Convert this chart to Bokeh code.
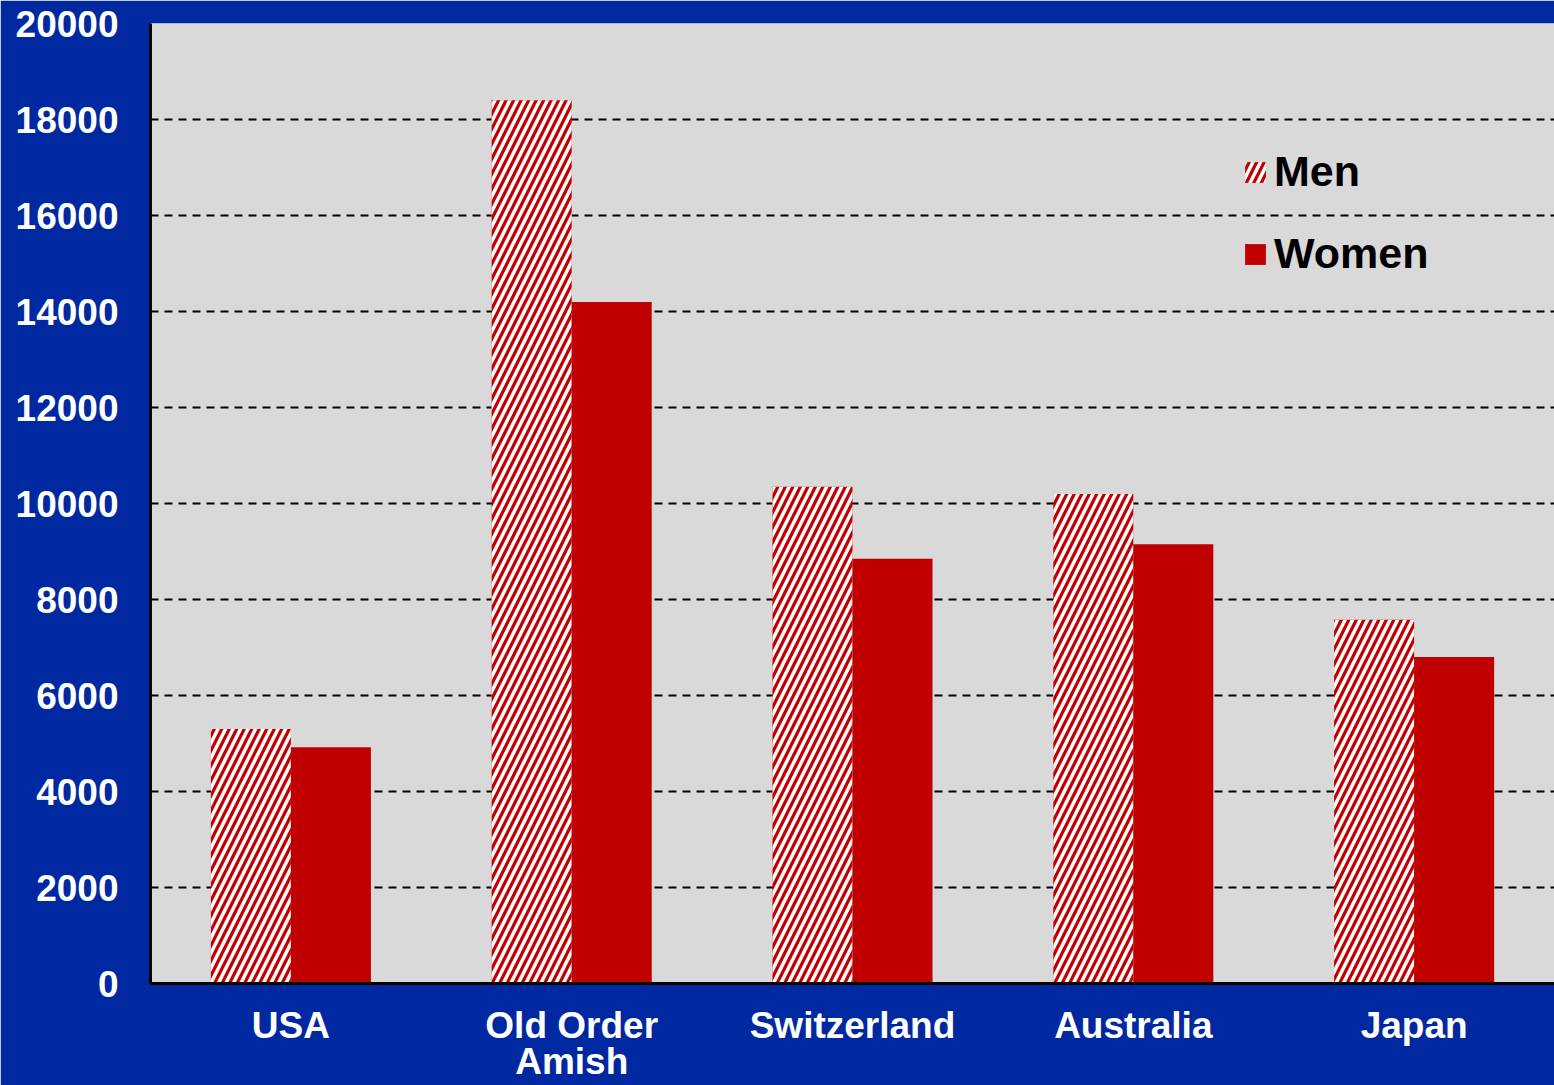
from bokeh.plotting import figure
from bokeh.models import (ColumnDataSource, Legend, LegendItem, FixedTicker, NumeralTickFormatter,
                          FactorRange, CategoricalAxis)
from bokeh.transform import dodge
from bokeh.embed import file_html
from bokeh.resources import INLINE

countries = ["USA", "Old Order Amish", "Switzerland", "Australia", "Japan"]
label_line1 = ["USA", "Old Order", "Switzerland", "Australia", "Japan"]
label_line2 = [" ", "Amish", "  ", "   ", "    "]
men = [5300, 18400, 10350, 10200, 7580]
women = [4920, 14200, 8850, 9150, 6800]
y_ticks = [0, 2000, 4000, 6000, 8000, 10000, 12000, 14000, 16000, 18000, 20000]

BG = "#0028A0"
RED = "#C00000"
FONT = "Liberation Sans"

src = ColumnDataSource(data=dict(country=countries, men=men, women=women))

p = figure(x_range=countries, y_range=(0, 20000), width=1554, height=1085,
           output_backend="svg", toolbar_location=None,
           background_fill_color="#D9D9D9", border_fill_color=BG,
           min_border_left=150, min_border_right=0, min_border_top=23, min_border_bottom=102)
p.outline_line_color = None
p.extra_x_ranges = {"line1": FactorRange(factors=label_line1),
                    "line2": FactorRange(factors=label_line2)}

r_men = p.vbar(x=dodge("country", -0.1425, range=p.x_range), top="men", width=0.285, source=src,
               fill_color=RED, line_color=None, hatch_pattern="/", hatch_color="white",
               hatch_weight=3.5, hatch_scale=15)
r_women = p.vbar(x=dodge("country", 0.1425, range=p.x_range), top="women", width=0.285, source=src,
                 fill_color=RED, line_color=None)

p.xgrid.grid_line_color = None
p.ygrid.grid_line_color = "black"
p.ygrid.grid_line_width = 2
p.ygrid.grid_line_dash = "8 6"
p.yaxis.ticker = FixedTicker(ticks=y_ticks)
p.yaxis.formatter = NumeralTickFormatter(format="0")

xa1 = p.xaxis[0]
xa1.x_range_name = "line1"
xa2 = CategoricalAxis(x_range_name="line2")
p.add_layout(xa2, "below")

for ax in (xa1, xa2, p.yaxis[0]):
    ax.axis_line_color = "black"
    ax.axis_line_width = 3
    ax.major_tick_line_color = None
    ax.minor_tick_line_color = None
    ax.major_tick_out = 0
    ax.major_tick_in = 0
    ax.major_label_text_color = "white"
    ax.major_label_text_font = FONT
    ax.major_label_text_font_style = "bold"
    ax.major_label_text_font_size = "37px"
xa2.axis_line_color = None
p.yaxis.major_label_standoff = 32
xa1.major_label_standoff = 21
xa2.major_label_standoff = -8

legend = Legend(items=[LegendItem(label="Men", renderers=[r_men]),
                       LegendItem(label="Women", renderers=[r_women])],
                location=(1092, 705), orientation="vertical",
                background_fill_alpha=0, border_line_color=None,
                label_text_font=FONT, label_text_font_style="bold",
                label_text_font_size="43px", label_text_color="black",
                glyph_width=26, glyph_height=26, label_standoff=6,
                spacing=33, padding=0, margin=0, label_height=46)
p.add_layout(legend)

open("out.html", "w").write(file_html(p, INLINE))
